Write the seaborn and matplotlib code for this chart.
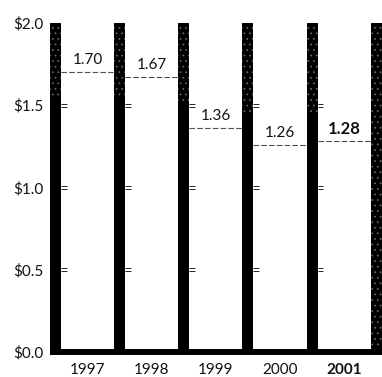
import numpy as np
import pandas as pd
import matplotlib
matplotlib.use("Agg")
import matplotlib.pyplot as plt
import seaborn as sns

# Dividend per share, by year
years = ["1997", "1998", "1999", "2000", "2001"]
values = [1.70, 1.67, 1.36, 1.26, 1.28]
y_ticks = [0.0, 0.5, 1.0, 1.5, 2.0]
y_tick_labels = [r"\$0.0", r"\$0.5", r"\$1.0", r"\$1.5", r"\$2.0"]
divider_top = 2.0
guide_marks = [0.5, 1.0, 1.5]

sns.set_theme(style="white")
plt.rcParams["font.family"] = ["Lato", "DejaVu Sans"]
plt.rcParams["hatch.linewidth"] = 0.5

fig = plt.figure(figsize=(3.82, 3.77), dpi=100)
ax = fig.add_axes([50 / 382, 0.0446, 332 / 382, 0.8945])

n = len(years)
pillar_x = np.arange(n + 1)
half_w = 0.085

# Dividers between year slots: speckled upper part, solid black lower part
solid_level = [1.55, 1.55, 1.50, 1.45, 1.45, 0.0]
pillars = pd.DataFrame({"x": pillar_x, "top": [divider_top] * (n + 1), "solid": solid_level})
sns.barplot(data=pillars, x="x", y="top", native_scale=True, width=2 * half_w,
            color="black", saturation=1, hatch="...", edgecolor="#6e6e6e",
            linewidth=0, ax=ax)
sns.barplot(data=pillars, x="x", y="solid", native_scale=True, width=2 * half_w,
            color="black", saturation=1, linewidth=0, ax=ax)

# Baseline
ax.axhline(0, color="black", lw=4.3, zorder=3)

# Value levels between dividers
ax.hlines(values, pillar_x[:-1] + half_w, pillar_x[1:] - half_w,
          colors="#505050", lw=0.8, linestyles=(0, (5, 2)), zorder=2)
for i, v in enumerate(values):
    last = i == n - 1
    ax.annotate(f"{v:.2f}", (i + 0.5, v), xytext=(0, 3.5), textcoords="offset points",
                ha="center", va="bottom", fontsize=12 if last else 11, color="#111111",
                fontweight="bold" if last else "normal")

# Small double guide marks beside each divider
for px in pillar_x[:-1]:
    for gy in guide_marks:
        ax.hlines([gy - 0.01, gy + 0.01], px + half_w, px + half_w + 0.09,
                  colors="#222222", lw=0.7, zorder=2)

ax.set_xlim(-0.086, 5.09)
ax.set_ylim(-0.05, 2.0)
ax.set_xticks(np.arange(n) + 0.5)
ax.set_xticklabels(years, fontsize=11, color="#111111")
ax.get_xticklabels()[-1].set_fontweight("bold")
ax.set_yticks(y_ticks)
ax.set_yticklabels(y_tick_labels, fontsize=11, color="#111111")
ax.tick_params(axis="x", length=0, pad=2)
ax.tick_params(axis="y", length=0, pad=5)
ax.set_xlabel("")
ax.set_ylabel("")
for s in ax.spines.values():
    s.set_visible(False)
ax.grid(False)

fig.savefig("out.png", dpi=100)
